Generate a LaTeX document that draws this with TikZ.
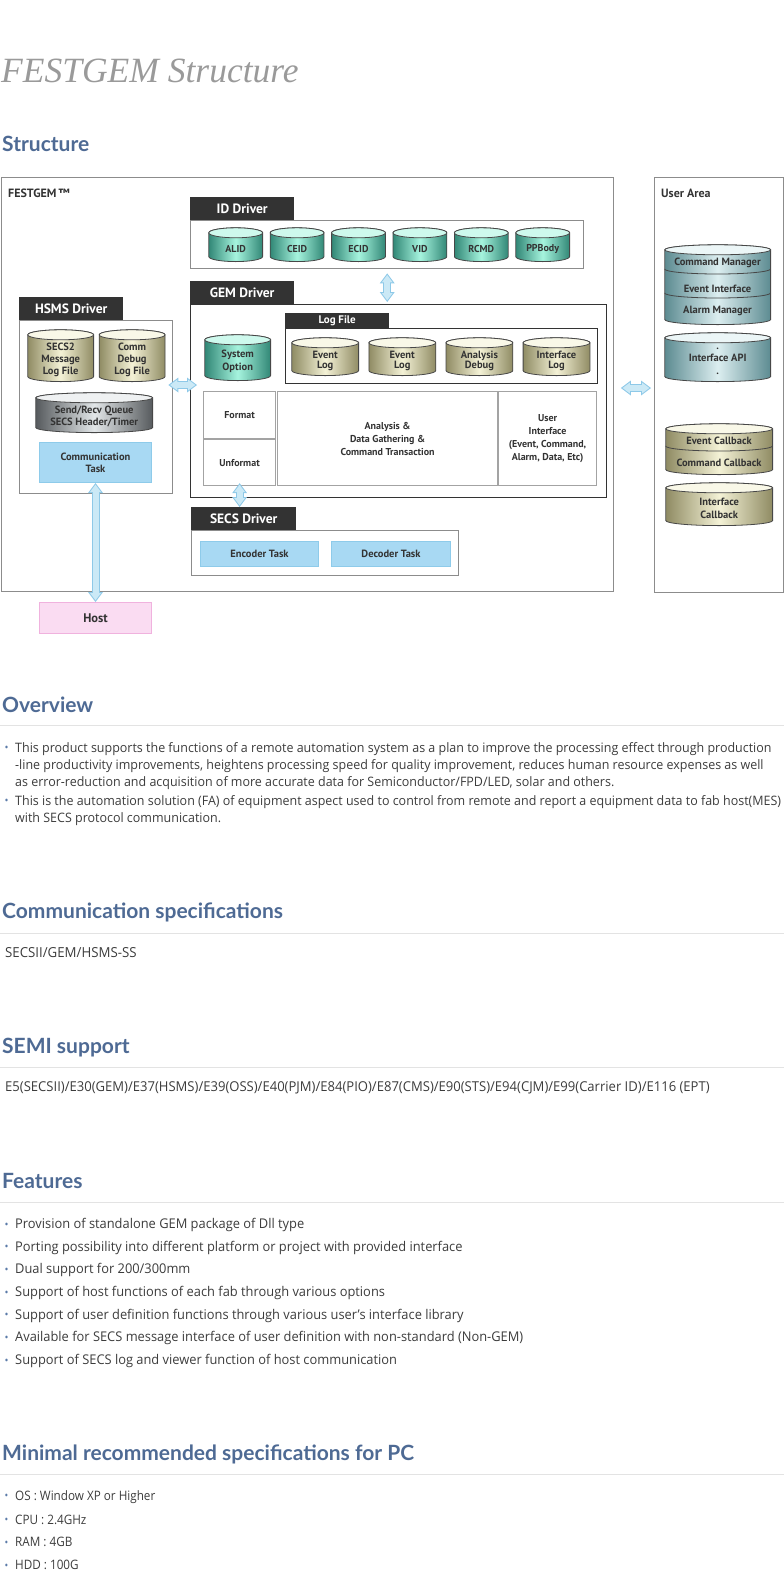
\documentclass[tikz,border=0pt]{standalone}
\usepackage{fontspec}
\setmainfont{PT Sans}
\newfontfamily\headfont{Lato}
\newfontfamily\bodyfont[FakeStretch=0.96]{Open Sans}
\newfontfamily\narrowfont[FakeStretch=0.90]{Open Sans}
\newfontfamily\titlefont{Liberation Serif}
\usetikzlibrary{arrows.meta,calc,positioning}

\definecolor{headblue}{HTML}{4E6A94}
\definecolor{tabgray}{HTML}{333333}
\definecolor{framegray}{HTML}{8C8C8C}
\definecolor{inkgray}{HTML}{333333}
\definecolor{tealedge}{HTML}{2F8574}
\definecolor{tealmid}{HTML}{A6F4DE}
\definecolor{khakiedge}{HTML}{8E8A62}
\definecolor{khakimid}{HTML}{F4F2D6}
\definecolor{steeledge}{HTML}{55595C}
\definecolor{steelmid}{HTML}{E2E6E8}
\definecolor{uaedge}{HTML}{5B8A90}
\definecolor{uamid}{HTML}{DCEEF0}
\definecolor{taskfill}{HTML}{A8D9F3}
\definecolor{taskedge}{HTML}{8ECBEA}
\definecolor{hostfill}{HTML}{FADCF2}
\definecolor{hostedge}{HTML}{F0B2DE}
\definecolor{arrowfill}{HTML}{CBE9F6}
\definecolor{arrowedge}{HTML}{8EC9E8}
\definecolor{rulegray}{HTML}{E3E3E3}
\definecolor{dotblue}{HTML}{5A7AA8}
\definecolor{bodygray}{HTML}{3C3C3C}
\definecolor{titlegray}{HTML}{9A9A9A}

% shaded drum drawn inside a node (width, edge colour, middle colour);
% the node reaches 8pt below the drum so that its text sits lower
\newcommand\drumpaint[3]{%
  \draw[draw=inkgray!90, line width=.8pt, left color=#2, right color=#2, middle color=#3]
    ([xshift=.6pt,yshift=-5.6pt]path picture bounding box.north west)
    -- ([xshift=.6pt,yshift=13.6pt]path picture bounding box.south west)
    arc[start angle=180,end angle=360,x radius=#1*0.5pt-0.6pt,y radius=5pt]
    -- ([xshift=-.6pt,yshift=-5.6pt]path picture bounding box.north east)
    arc[start angle=0,end angle=180,x radius=#1*0.5pt-0.6pt,y radius=5pt] -- cycle;
  \filldraw[draw=inkgray!90, line width=.8pt, fill=#3!55!white]
    ([yshift=-5.6pt]path picture bounding box.north)
    ellipse[x radius=#1*0.5pt-0.6pt, y radius=5pt];
}
\newcommand\dotitem{\makebox[12pt][l]{\hspace{1.5pt}\raisebox{.5pt}{\textcolor{dotblue}{\fontsize{11}{11}\selectfont•}}}}

\begin{document}
\begin{tikzpicture}[x=1pt, y=-1pt, inner sep=0pt,
  drum/.style n args={4}{minimum width=#1pt, minimum height=#2pt+8pt, align=center,
    text=inkgray, font=\bfseries\fontsize{10}{11}\selectfont,
    path picture={\drumpaint{#1}{#3}{#4}}},
  iddrum/.style={drum={55}{35}{tealedge}{tealmid}},
  logdrum/.style={drum={68}{39}{khakiedge}{khakimid}, font=\bfseries\fontsize{10.5}{10.5}\selectfont},
  frame/.style={draw=framegray, line width=1.2pt, anchor=north west},
  panel/.style={draw=framegray, line width=1.4pt, anchor=north west},
  darkpanel/.style={draw=inkgray, line width=1pt, anchor=north west},
  tab/.style={fill=tabgray, text=white, anchor=north west, minimum width=104pt,
    minimum height=23pt, font=\bfseries\fontsize{13.5}{14}\selectfont},
  cell/.style={draw=framegray!80, line width=1.2pt, anchor=north west, align=center,
    text=inkgray, font=\bfseries\fontsize{10}{13}\selectfont},
  task/.style={draw=taskedge, fill=taskfill, line width=1pt, anchor=north west,
    align=center, text=inkgray, font=\bfseries\fontsize{10.5}{11.7}\selectfont},
  fatarrow/.style={draw=arrowedge, line width=8pt,
    {Triangle[length=10pt,width=15pt,line width=0pt]}-{Triangle[length=10pt,width=15pt,line width=0pt]},
    postaction={draw=arrowfill, line width=6pt, shorten <=1.7pt, shorten >=1.7pt,
    {Triangle[length=7.3pt,width=11pt,line width=0pt]}-{Triangle[length=7.3pt,width=11pt,line width=0pt]}}},
  heading/.style={anchor=west, text=headblue, font=\headfont\bfseries\fontsize{21}{22}\selectfont},
  para/.style={anchor=west, align=left, text=bodygray, font=\bodyfont\fontsize{13}{17}\selectfont}]

  \useasboundingbox (0,0) rectangle (784,1580);

  % page title
  \node[anchor=west, text=titlegray, font=\titlefont\itshape\fontsize{35.5}{38}\selectfont] (title) at (1,71) {FESTGEM Structure};
  \node[heading] (hstruct) at (2,144) {Structure};

  % FESTGEM frame
  \node[frame, minimum width=612pt, minimum height=414pt] (festgem) at (0.7,177) {};
  \node[anchor=west, text=inkgray, font=\bfseries\fontsize{12}{12}\selectfont] (fglabel) at (8,193) {FESTGEM\,™};

  % ID driver
  \node[tab] (idtab) at (190,197) {ID Driver};
  \node[panel, minimum width=393pt, minimum height=48pt] (idbox) at (190,220) {};
  \node[iddrum, anchor=north west] (alid) at (208,227) {ALID};
  \node[iddrum, right=6pt of alid] (ceid) {CEID};
  \node[iddrum, right=6pt of ceid] (ecid) {ECID};
  \node[iddrum, right=6pt of ecid] (vid) {VID};
  \node[iddrum, right=6pt of vid] (rcmd) {RCMD};
  \node[iddrum, right=6pt of rcmd] (ppbody) {PPBody};

  % GEM driver
  \node[tab] (gemtab) at (190,281) {GEM Driver};
  \node[darkpanel, minimum width=416pt, minimum height=193pt] (gembox) at (190,304) {};
  \node[drum={67}{47}{tealedge}{tealmid}, anchor=north west, font=\bfseries\fontsize{10.5}{13}\selectfont] (sysopt) at (204,334) {System\\Option};
  \node[tab, minimum height=15pt, font=\bfseries\fontsize{11}{11}\selectfont] (logtab) at (285,313) {Log File};
  \node[darkpanel, minimum width=312pt, minimum height=55pt] (logbox) at (285,328) {};
  \node[logdrum, anchor=north west] (evlog) at (291,337) {Event\\Log};
  \node[logdrum, right=8.7pt of evlog] (evlogb) {Event\\Log};
  \node[logdrum, right=8.7pt of evlogb] (andebug) {Analysis\\Debug};
  \node[logdrum, right=8.7pt of andebug] (iflog) {Interface\\Log};
  \node[cell, minimum width=72pt, minimum height=47pt] (fmt) at (203,391) {Format};
  \node[cell, minimum width=72pt, minimum height=46pt] (unfmt) at (203,439) {Unformat};
  \node[cell, minimum width=220pt, minimum height=94pt] (analysis) at (277,391) {Analysis \&\\Data Gathering \&\\Command Transaction};
  \node[cell, minimum width=98pt, minimum height=94pt] (userif) at (498,391) {User\\Interface\\(Event, Command,\\Alarm, Data, Etc)};

  % HSMS driver
  \node[tab] (hsmstab) at (19,297) {HSMS Driver};
  \node[panel, minimum width=153pt, minimum height=173pt] (hsmsbox) at (19,320) {};
  \node[drum={67}{53}{khakiedge}{khakimid}, anchor=north west, font=\bfseries\fontsize{10.5}{11.7}\selectfont] (secslog) at (27,329) {SECS2\\Message\\Log File};
  \node[drum={67}{53}{khakiedge}{khakimid}, right=4pt of secslog, font=\bfseries\fontsize{10.5}{11.7}\selectfont] (commlog) {Comm\\Debug\\Log File};
  \node[drum={118}{41}{steeledge}{steelmid}, anchor=north west, font=\bfseries\fontsize{10.5}{11.5}\selectfont] (queue) at (35,392) {Send/Recv Queue\\SECS Header/Timer};
  \node[task, minimum width=112pt, minimum height=40pt] (commtask) at (39,442) {Communication\\Task};
  \node[task, draw=hostedge, fill=hostfill, minimum width=112pt, minimum height=31pt, font=\bfseries\fontsize{12.5}{13}\selectfont] (host) at (39,602) {Host};

  % SECS driver
  \node[tab, minimum width=105pt] (secstab) at (191,507) {SECS Driver};
  \node[panel, minimum width=267pt, minimum height=45pt] (secsbox) at (191,530) {};
  \node[task, minimum width=118pt, minimum height=25pt] (encoder) at (200,541) {Encoder Task};
  \node[task, minimum width=119pt, minimum height=25pt, right=12pt of encoder] (decoder) {Decoder Task};

  % user area
  \node[frame, minimum width=129pt, minimum height=415pt] (userarea) at (654,177) {};
  \node[anchor=west, text=inkgray, font=\bfseries\fontsize{12}{12}\selectfont] (ualabel) at (661,193) {User Area};
  \node[drum={107}{81}{uaedge}{uamid}, anchor=north west] (mgrstack) at (664,244) {};
  \draw[draw=inkgray!90, line width=.8pt] (664.6,269) arc[start angle=180,end angle=360,x radius=52.9pt,y radius=5pt];
  \draw[draw=inkgray!90, line width=.8pt] (664.6,293) arc[start angle=180,end angle=360,x radius=52.9pt,y radius=5pt];
  \node[text=inkgray, font=\bfseries\fontsize{10.5}{11}\selectfont] (cmdmgr) at (717.5,263) {Command Manager};
  \node[text=inkgray, font=\bfseries\fontsize{10.5}{11}\selectfont] (evtif) at (717.5,289) {Event Interface};
  \node[text=inkgray, font=\bfseries\fontsize{10.5}{11}\selectfont] (almmgr) at (717.5,311) {Alarm Manager};
  \node[drum={107}{50}{uaedge}{uamid}, anchor=north west, font=\bfseries\fontsize{10.5}{12.5}\selectfont] (ifapi) at (664,332) {.\\Interface API\\.};
  \node[drum={108}{52}{khakiedge}{khakimid}, anchor=north west] (cbstack) at (665,423) {};
  \draw[draw=inkgray!90, line width=.8pt] (665.6,446) arc[start angle=180,end angle=360,x radius=53.4pt,y radius=5pt];
  \node[text=inkgray, font=\bfseries\fontsize{10.5}{11}\selectfont] (evtcb) at (719,441) {Event Callback};
  \node[text=inkgray, font=\bfseries\fontsize{10.5}{11}\selectfont] (cmdcb) at (719,463) {Command Callback};
  \node[drum={108}{44}{khakiedge}{khakimid}, anchor=north west, font=\bfseries\fontsize{10.5}{12.5}\selectfont] (ifcb) at (665,482) {Interface\\Callback};

  % double arrows
  \coordinate (hsmsgem) at (180,385);
  \coordinate (festua) at (634,388);
  \draw[fatarrow] ($(idbox.south)+(0,4)$) -- ($(idbox.south |- gembox.north)+(0,-2)$);
  \draw[fatarrow] ($(hsmsgem -| hsmsbox.east)+(-5,0)$) -- ($(hsmsgem -| gembox.west)+(7,0)$);
  \draw[fatarrow] ($(festua -| festgem.east)+(7,0)$) -- ($(festua -| userarea.west)+(-3,0)$);
  \draw[fatarrow] ($(unfmt.south)+(0,-3)$) -- (unfmt.south |- secstab.north);
  \draw[fatarrow] (commtask.south) -- (host.north);

  % text sections
  \foreach \y in {725,933,1067,1202,1474}
    \draw[rulegray, line width=1pt] (0,\y) -- (784,\y);

  \node[heading] (hover) at (2,705) {Overview};
  \node[para, anchor=north west] (over1) at (3,742) {\dotitem This product supports the functions of a remote automation system as a plan to improve the processing effect through production\\
    \hspace*{12pt}-line productivity improvements, heightens processing speed for quality improvement, reduces human resource expenses as well\\
    \hspace*{12pt}as error-reduction and acquisition of more accurate data for Semiconductor/FPD/LED, solar and others.};
  \node[para, anchor=north west] (over2) at (3,795) {\dotitem This is the automation solution (FA) of equipment aspect used to control from remote and report a equipment data to fab host(MES)\\
    \hspace*{12pt}with SECS protocol communication.};

  \node[heading] (hcomm) at (2,912) {Communication specifications};
  \node[para, font=\bodyfont\fontsize{13.8}{15}\selectfont] (commspec) at (5,953) {SECSII/GEM/HSMS-SS};

  \node[heading] (hsemi) at (2,1048) {SEMI support};
  \node[para, font=\bodyfont\fontsize{13.6}{15}\selectfont] (semispec) at (5,1088) {E5(SECSII)/E30(GEM)/E37(HSMS)/E39(OSS)/E40(PJM)/E84(PIO)/E87(CMS)/E90(STS)/E94(CJM)/E99(Carrier ID)/E116 (EPT)};

  \node[heading] (hfeat) at (2,1181) {Features};
  \foreach \feat [count=\i] in {Provision of standalone GEM package of Dll type,
      Porting possibility into different platform or project with provided interface,
      Dual support for 200/300mm,
      Support of host functions of each fab through various options,
      Support of user definition functions through various user’s interface library,
      Available for SECS message interface of user definition with non-standard (Non-GEM),
      Support of SECS log and viewer function of host communication}
    \node[para, font=\bodyfont\fontsize{13.4}{15}\selectfont] (feat\i) at (3,{1225+22.67*(\i-1)}) {\dotitem\feat};

  \node[heading] (hpc) at (2,1454) {Minimal recommended specifications for PC};
  \foreach \spec [count=\i] in {OS : Window XP or Higher, CPU : 2.4GHz, RAM : 4GB, HDD : 100G}
    \node[para, font=\narrowfont\fontsize{13}{15}\selectfont] (pc\i) at (3,{1497+22.67*(\i-1)}) {\dotitem\spec};
\end{tikzpicture}
\end{document}
